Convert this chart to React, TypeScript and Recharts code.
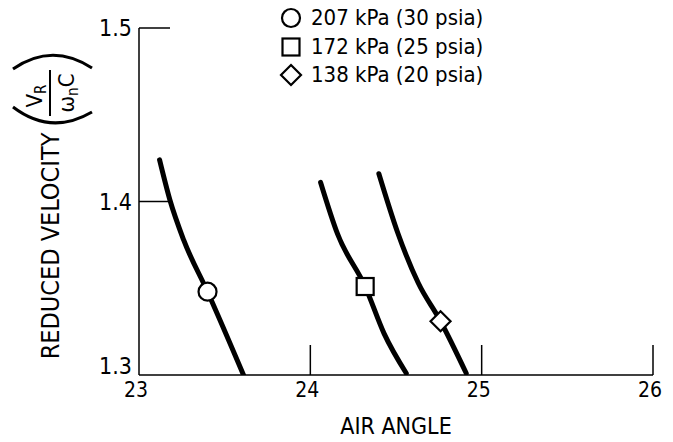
import { ComposedChart, Line, Scatter, XAxis, YAxis } from 'recharts'

// air angle (deg) vs reduced velocity, one curve per supply pressure
const angle207 = [23.12, 23.18, 23.26, 23.4, 23.61]
const velocity207 = [1.424, 1.401, 1.378, 1.348, 1.3]
const angle172 = [24.06, 24.16, 24.32, 24.43, 24.56]
const velocity172 = [1.411, 1.381, 1.351, 1.324, 1.301]
const angle138 = [24.4, 24.51, 24.63, 24.76, 24.91]
const velocity138 = [1.416, 1.382, 1.353, 1.331, 1.301]

// the point on each curve that carries its symbol
const markerAngle = [23.4, 24.32, 24.76]
const markerVelocity = [1.348, 1.351, 1.331]

const legendLabels = ['207 kPa (30 psia)', '172 kPa (25 psia)', '138 kPa (20 psia)']
const xTicks = [23, 24, 25, 26]
const yTicks = [1.3, 1.4, 1.5]

const FONT = '"Liberation Sans Narrow", "DejaVu Sans Condensed", "Liberation Sans", sans-serif'

const toPoints = (xs: number[], ys: number[]) => xs.map((x, i) => ({ x, y: ys[i] }))

const series = [
    { key: 'p207', data: toPoints(angle207, velocity207), shape: 'circle' },
    { key: 'p172', data: toPoints(angle172, velocity172), shape: 'square' },
    { key: 'p138', data: toPoints(angle138, velocity138), shape: 'diamond' },
]

function Symbol({ shape, cx, cy }: { shape: string; cx: number; cy: number }) {
    if (shape === 'circle') return <circle cx={cx} cy={cy} r={9} fill="#fff" stroke="#000" strokeWidth={2.2} />
    if (shape === 'square') return <rect x={cx - 8.5} y={cy - 8.5} width={17} height={17} fill="#fff" stroke="#000" strokeWidth={2.2} />
    return (
        <polygon
            points={`${cx},${cy - 10} ${cx + 10},${cy} ${cx},${cy + 10} ${cx - 10},${cy}`}
            fill="#fff"
            stroke="#000"
            strokeWidth={2.2}
        />
    )
}

function XTick({ x, y, payload }: any) {
    return (
        <g>
            {payload.value !== 23 && <line x1={x} y1={y} x2={x} y2={y - 30} stroke="#000" strokeWidth={1.5} />}
            <text x={x - 3} y={y + 22} textAnchor="middle" fontFamily={FONT} fontSize={21} fill="#000">
                {payload.value}
            </text>
        </g>
    )
}

function YTick({ x, y, payload }: any) {
    const bottom = payload.value === 1.3
    return (
        <g>
            {!bottom && <line x1={x + 7} y1={y} x2={x + 38} y2={y} stroke="#000" strokeWidth={1.5} />}
            <text x={x} y={bottom ? y - 1 : y + 8} textAnchor="end" fontFamily={FONT} fontSize={23} fill="#000">
                {payload.value.toFixed(1)}
            </text>
        </g>
    )
}

function LegendBox() {
    return (
        <div
            style={{
                position: 'absolute',
                left: 279,
                top: 4,
                fontFamily: FONT,
                fontSize: 22,
                lineHeight: '28.5px',
                color: '#000',
            }}
        >
            {series.map((s, i) => (
                <div key={s.key} style={{ display: 'flex', alignItems: 'center' }}>
                    <svg width={24} height={24} style={{ marginRight: 8 }}>
                        <Symbol shape={s.shape} cx={12} cy={12} />
                    </svg>
                    <span>{legendLabels[i]}</span>
                </div>
            ))}
        </div>
    )
}

export default function App() {
    return (
        <div style={{ position: 'absolute', left: 0, top: 0, width: 673, height: 442, background: '#fff' }}>
            <ComposedChart width={673} height={442} margin={{ top: 28, right: 20, left: 0, bottom: 0 }}>
                <XAxis
                    type="number"
                    dataKey="x"
                    domain={[23, 26]}
                    ticks={xTicks}
                    height={67}
                    tickSize={0}
                    tickMargin={0}
                    tick={<XTick />}
                    axisLine={{ stroke: '#000', strokeWidth: 1.5 }}
                    allowDataOverflow
                    label={{ value: 'AIR ANGLE', position: 'insideBottom', offset: 8, fontFamily: FONT, fontSize: 23, fill: '#000' }}
                />
                <YAxis
                    type="number"
                    dataKey="y"
                    domain={[1.3, 1.5]}
                    ticks={yTicks}
                    width={139}
                    tickSize={0}
                    tickMargin={7}
                    tick={<YTick />}
                    axisLine={{ stroke: '#000', strokeWidth: 1.5 }}
                    allowDataOverflow
                />
                {series.map((s) => (
                    <Line
                        key={s.key}
                        data={s.data}
                        dataKey="y"
                        type="monotone"
                        stroke="#000"
                        strokeWidth={5}
                        strokeLinecap="round"
                        dot={false}
                        isAnimationActive={false}
                    />
                ))}
                {series.map((s, i) => (
                    <Scatter
                        key={s.key + 'm'}
                        data={[{ x: markerAngle[i], y: markerVelocity[i] }]}
                        dataKey="y"
                        shape={(p: any) => <Symbol shape={s.shape} cx={p.cx} cy={p.cy} />}
                        isAnimationActive={false}
                    />
                ))}
            </ComposedChart>

            <LegendBox />

            <svg width={110} height={442} style={{ position: 'absolute', left: 0, top: 0 }}>
                <text
                    transform="translate(50,246) rotate(-90)"
                    textAnchor="middle"
                    dominantBaseline="central"
                    fontFamily={FONT}
                    fontSize={25}
                    fill="#000"
                >
                    REDUCED VELOCITY
                </text>
                <path d="M13,69 Q52,42 92,68" fill="none" stroke="#000" strokeWidth={3} />
                <path d="M13,107 Q51,136 92,112" fill="none" stroke="#000" strokeWidth={3} />
                <g transform="translate(50,93) rotate(-90)" fontFamily={FONT} fill="#000">
                    <line x1={-23} y1={0} x2={23} y2={0} stroke="#000" strokeWidth={2} />
                    <text x={-3} y={-8} textAnchor="middle" fontSize={22}>
                        V<tspan fontSize={15} dy={4}>R</tspan>
                    </text>
                    <text x={0} y={24} textAnchor="middle" fontSize={22}>
                        ω<tspan fontSize={15} dy={4}>n</tspan>
                        <tspan dy={-4}>C</tspan>
                    </text>
                </g>
            </svg>
        </div>
    )
}
